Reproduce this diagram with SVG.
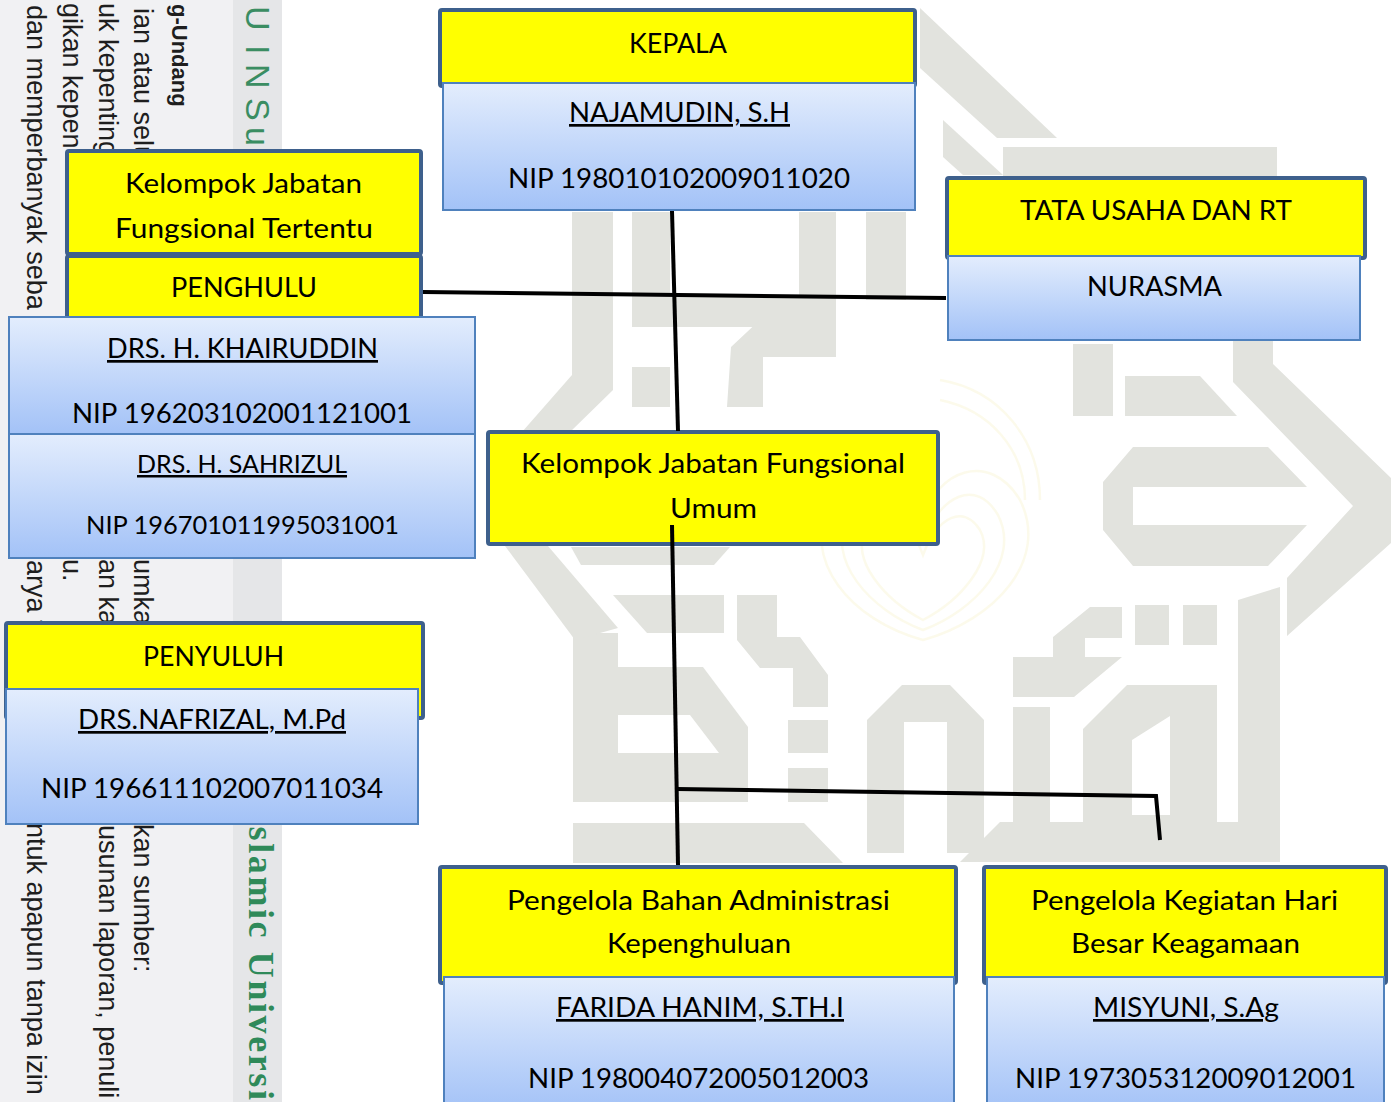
<svg xmlns="http://www.w3.org/2000/svg" width="1391" height="1102" viewBox="0 0 1391 1102">
<defs>
<linearGradient id="bg" x1="0" y1="0" x2="0" y2="1">
<stop offset="0" stop-color="#e3edfd"/>
<stop offset="1" stop-color="#a3c2f7"/>
</linearGradient>
<style>
.wm{font-family:"Liberation Sans",Arial,sans-serif;font-size:27px;fill:#1e1e1e}
.wmb{font-family:"Liberation Sans",Arial,sans-serif;font-size:22px;font-weight:bold;fill:#1e1e1e}
.gr{font-family:"Liberation Sans",Arial,sans-serif;font-size:34px;fill:#3a8d62}
.grs{font-family:"Liberation Serif","Times New Roman",serif;font-size:36px;font-weight:bold;fill:#2f8a5a;letter-spacing:2.6px}
.g{fill:#e2e3de}
.fl{fill:none;stroke:#f6f1c6;stroke-width:2.5;opacity:.35}
.y{fill:#ffff00;stroke:#3e608c;stroke-width:4}
.b{fill:url(#bg);stroke:#4f81bd;stroke-width:2}
.t{font-family:Lato,"Liberation Sans",sans-serif;font-size:27px;fill:#000}
.s{font-size:25px}
.u{text-decoration:underline}
.c{fill:none;stroke:#000;stroke-width:4;stroke-linejoin:miter}
</style>
</defs>
<rect width="1391" height="1102" fill="#ffffff"/>
<g id="margin-strip">
<rect x="0" y="0" width="233" height="1102" fill="#f1f1f3"/>
<rect x="233" y="0" width="49" height="1102" fill="#e5e6e8"/>
<text class="wm" transform="translate(27,5) rotate(90)">dan memperbanyak seba</text>
<text class="wm" transform="translate(27,560) rotate(90)">arya t</text>
<text class="wm" transform="translate(27,823) rotate(90)">ntuk apapun tanpa izin</text>
<text class="wm" transform="translate(63,3) rotate(90)">gikan kepen</text>
<text class="wm" transform="translate(63,559) rotate(90)">u.</text>
<text class="wm" transform="translate(99,3) rotate(90)">uk kepenting</text>
<text class="wm" transform="translate(99,559) rotate(90)">an ka</text>
<text class="wm" transform="translate(99,825) rotate(90)">usunan laporan, penuli</text>
<text class="wm" transform="translate(134,8) rotate(90)">ian atau selu</text>
<text class="wm" transform="translate(134,559) rotate(90)">umka</text>
<text class="wm" transform="translate(134,824) rotate(90)">kan sumber:</text>
<text class="wmb" transform="translate(172,4) rotate(90)">g-Undang</text>
<text class="gr" transform="translate(246,0) rotate(90)" x="6 45 64 92 98 127">UIN Su</text>
<text class="grs" transform="translate(249,810) rotate(90)">Islamic Universi</text>
</g>
<g id="watermark">
<polygon class="g" points="920,8 1057,138 997,138 920,68"/>
<polygon class="g" points="1003,147 1277,147 1277,178 1003,178"/>
<polygon class="g" points="943,120 1003,175 963,175 943,157"/>
<path class="g" fill-rule="evenodd" d="M1133,447 L1268,447 L1307,487 L1133,487 L1133,525 L1307,525 L1268,566 L1133,566 L1103,530 L1103,482 Z"/>
<polygon class="g" points="1073,344 1113,344 1113,416 1073,416"/>
<polygon class="g" points="1125,376 1200,376 1237,416 1125,416"/>
<polygon class="g" points="1233,340 1273,340 1273,364 1391,478 1391,543 1287,636 1287,578 1353,506 1233,382"/>
<polygon class="g" points="1238,600 1280,587 1280,862 1238,862"/>
<rect class="g" x="1135" y="605" width="34" height="40"/>
<rect class="g" x="1183" y="605" width="34" height="40"/>
<polygon class="g" points="1053,637 1090,607 1122,607 1122,638 1085,638 1085,657 1122,657 1074,697 1013,697 1013,657 1053,657"/>
<polygon class="g" points="1013,707 1050,707 1050,822 1013,822"/>
<path class="g" fill-rule="evenodd" d="M1083,729 L1127,685 L1217,685 L1217,822 L1083,822 Z M1132,740 L1170,716 L1170,815 L1132,815 Z"/>
<polygon class="g" points="1000,822 1280,822 1280,862 960,862"/>
<polygon class="g" points="867,720 902,685 950,685 984,720 984,853 947,853 947,722 904,722 904,853 867,853"/>
<rect class="g" x="788" y="720" width="40" height="33"/>
<rect class="g" x="788" y="768" width="40" height="34"/>
<path class="g" fill-rule="evenodd" d="M573,633 L618,633 L618,667 L703,667 L748,727 L748,802 L573,802 Z M618,715 L690,715 L719,753 L618,753 Z"/>
<polygon class="g" points="573,823 804,823 843,863 573,863"/>
<polygon class="g" points="571,547 730,547 714,565 581,565"/>
<polygon class="g" points="613,595 724,595 724,633 647,633"/>
<polygon class="g" points="737,595 777,595 777,637 800,637 828,675 828,707 793,707 793,668 760,668 737,640"/>
<polygon class="g" points="505,546 548,546 618,628 575,640"/>
<polygon class="g" points="572,212 613,212 613,390 570,432 522,432 572,375"/>
<polygon class="g" points="632,212 670,212 670,297 799,297 799,212 836,212 836,327 632,327"/>
<rect class="g" x="632" y="367" width="38" height="40"/>
<polygon class="g" points="731,347 763,317 836,317 836,357 763,357 763,407 727,407"/>
<rect class="g" x="866" y="212" width="40" height="88"/>
<path class="fl" d="M923,640 C850,620 800,560 830,500 C860,450 910,470 923,520 C936,470 990,450 1020,500 C1050,560 995,620 923,640 Z"/>
<path class="fl" d="M923,630 C870,610 825,560 848,515 C870,478 905,495 923,540 C941,495 976,478 998,515 C1021,560 976,610 923,630 Z"/>
<path class="fl" d="M923,620 C885,600 850,560 866,530 C882,505 908,515 923,555 C938,515 964,505 980,530 C996,560 961,600 923,620 Z"/>
<path class="fl" d="M940,380 C1000,390 1040,440 1040,500 M940,400 C990,410 1025,450 1025,500"/>
</g>
<g id="n-kepala">
<rect class="y" x="440" y="10" width="475" height="76" rx="2"/>
<rect class="b" x="443" y="83" width="472" height="127"/>
<text class="t" x="629" y="53" textLength="98" lengthAdjust="spacingAndGlyphs">KEPALA</text>
<text class="t u" x="569" y="122" textLength="221" lengthAdjust="spacingAndGlyphs">NAJAMUDIN, S.H</text>
<text class="t" x="508" y="188" textLength="342" lengthAdjust="spacingAndGlyphs">NIP 198010102009011020</text>
</g>
<g id="n-tatausaha">
<rect class="y" x="947" y="178" width="418" height="80" rx="2"/>
<rect class="b" x="948" y="256" width="412" height="84"/>
<text class="t" x="1020" y="220" textLength="272" lengthAdjust="spacingAndGlyphs">TATA USAHA DAN RT</text>
<text class="t" x="1087" y="296" textLength="135" lengthAdjust="spacingAndGlyphs">NURASMA</text>
</g>
<g id="n-jft">
<rect class="y" x="67" y="151" width="354" height="103" rx="2"/>
<text class="t" x="125" y="193" textLength="237" lengthAdjust="spacingAndGlyphs">Kelompok Jabatan</text>
<text class="t" x="115" y="238" textLength="258" lengthAdjust="spacingAndGlyphs">Fungsional Tertentu</text>
</g>
<g id="n-penghulu">
<rect class="y" x="67" y="256" width="354" height="66" rx="2"/>
<text class="t" x="171" y="297" textLength="146" lengthAdjust="spacingAndGlyphs">PENGHULU</text>
</g>
<g id="n-khairuddin">
<rect class="b" x="9" y="317" width="466" height="117"/>
<text class="t u" x="107" y="358" textLength="271" lengthAdjust="spacingAndGlyphs">DRS. H. KHAIRUDDIN</text>
<text class="t" x="72" y="423" textLength="340" lengthAdjust="spacingAndGlyphs">NIP 196203102001121001</text>
</g>
<g id="n-sahrizul">
<rect class="b" x="9" y="434" width="466" height="124"/>
<text class="t s u" x="137" y="473" textLength="210" lengthAdjust="spacingAndGlyphs">DRS. H. SAHRIZUL</text>
<text class="t s" x="86" y="534" textLength="313" lengthAdjust="spacingAndGlyphs">NIP 196701011995031001</text>
</g>
<g id="n-jfu">
<rect class="y" x="488" y="432" width="450" height="112" rx="2"/>
<text class="t" x="521" y="473" textLength="384" lengthAdjust="spacingAndGlyphs">Kelompok Jabatan Fungsional</text>
<text class="t" x="670" y="518" textLength="87" lengthAdjust="spacingAndGlyphs">Umum</text>
</g>
<g id="n-penyuluh">
<rect class="y" x="6" y="623" width="417" height="95" rx="2"/>
<rect class="b" x="6" y="689" width="412" height="135"/>
<text class="t" x="143" y="666" textLength="141" lengthAdjust="spacingAndGlyphs">PENYULUH</text>
<text class="t u" x="78" y="729" textLength="268" lengthAdjust="spacingAndGlyphs">DRS.NAFRIZAL, M.Pd</text>
<text class="t" x="41" y="798" textLength="342" lengthAdjust="spacingAndGlyphs">NIP 196611102007011034</text>
</g>
<g id="n-pbak">
<rect class="y" x="440" y="867" width="516" height="116" rx="2"/>
<rect class="b" x="444" y="977" width="510" height="135"/>
<text class="t" x="507" y="910" textLength="383" lengthAdjust="spacingAndGlyphs">Pengelola Bahan Administrasi</text>
<text class="t" x="607" y="953" textLength="184" lengthAdjust="spacingAndGlyphs">Kepenghuluan</text>
<text class="t u" x="556" y="1017" textLength="288" lengthAdjust="spacingAndGlyphs">FARIDA HANIM, S.TH.I</text>
<text class="t" x="528" y="1088" textLength="341" lengthAdjust="spacingAndGlyphs">NIP 198004072005012003</text>
</g>
<g id="n-pkhbk">
<rect class="y" x="984" y="867" width="402" height="116" rx="2"/>
<rect class="b" x="987" y="977" width="397" height="135"/>
<text class="t" x="1031" y="910" textLength="307" lengthAdjust="spacingAndGlyphs">Pengelola Kegiatan Hari</text>
<text class="t" x="1071" y="953" textLength="229" lengthAdjust="spacingAndGlyphs">Besar Keagamaan</text>
<text class="t u" x="1093" y="1017" textLength="186" lengthAdjust="spacingAndGlyphs">MISYUNI, S.Ag</text>
<text class="t" x="1015" y="1088" textLength="341" lengthAdjust="spacingAndGlyphs">NIP 197305312009012001</text>
</g>
<g id="connectors">
<line class="c" x1="672" y1="211" x2="678" y2="431"/>
<line class="c" x1="423" y1="292" x2="946" y2="298"/>
<line class="c" x1="672" y1="525" x2="678" y2="865"/>
<polyline class="c" points="677,789 1156,796 1160,840"/>
</g>
</svg>
